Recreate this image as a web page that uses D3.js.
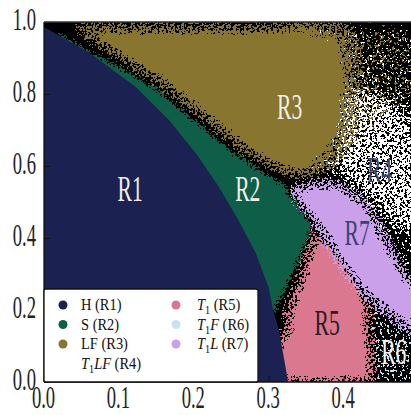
<!DOCTYPE html>
<html>
<head>
<meta charset="utf-8">
<script src="https://cdn.jsdelivr.net/npm/d3@7"></script>
<style>
  body { margin: 0; background: #fff; }
  svg { display: block; }
</style>
</head>
<body>
<div id="chart"></div>
<script>
// region boundaries, as [x, y] pairs
const r1Edge = [[0,0.986],[0.061,0.914],[0.123,0.819],[0.167,0.727],[0.203,0.635],[0.234,0.540],[0.260,0.448],[0.283,0.357],[0.300,0.262],[0.306,0.200],[0.314,0.142],[0.320,0.070],[0.326,0]];
const r2Outer = [[0.02,0.968],[0.05,0.930],[0.084,0.893],[0.147,0.819],[0.200,0.727],[0.254,0.635],[0.300,0.572],[0.322,0.545]];
const r2Right = [[0.327,0.520],[0.345,0.470],[0.358,0.435],[0.352,0.400],[0.332,0.300],[0.317,0.240],[0.306,0.190]];
const r3Lower = [[0.04,0.985],[0.063,0.955],[0.100,0.905],[0.163,0.822],[0.216,0.732],[0.270,0.642],[0.313,0.592],[0.338,0.575]];
const r3Right = [[0.355,0.585],[0.375,0.640],[0.385,0.720],[0.387,0.800],[0.375,0.900],[0.360,0.985]];
const r3Fade = [[0.33,0.985],[0.405,0.985],[0.415,0.85],[0.405,0.70],[0.385,0.62],[0.35,0.585],[0.33,0.70]];
const r3Fringe = [[0.30,0.99],[0.50,0.99],[0.50,0.80],[0.44,0.70],[0.40,0.60],[0.36,0.57]];
const r4Area = [[0.34,0.99],[0.50,0.99],[0.50,0.27],[0.486,0.29],[0.469,0.345],[0.450,0.421],[0.429,0.496],[0.402,0.540],[0.376,0.56],[0.355,0.58]];
const r4Core = [[0.39,0.78],[0.43,0.82],[0.47,0.78],[0.50,0.70],[0.50,0.40],[0.47,0.42],[0.43,0.52],[0.40,0.56],[0.385,0.62]];
const r7Top = [[0.327,0.524],[0.344,0.546],[0.376,0.552],[0.402,0.540],[0.429,0.496],[0.450,0.421],[0.469,0.345],[0.486,0.290],[0.50,0.26]];
const r7Bottom = [[0.50,0.13],[0.486,0.150],[0.450,0.206],[0.425,0.250],[0.406,0.300],[0.380,0.384],[0.357,0.457]];
const r5Edge = [[0.362,0.415],[0.385,0.390],[0.410,0.310],[0.428,0.250],[0.432,0.180],[0.435,0.120],[0.437,0.050],[0.439,0]];
const r5Left = [[0.30,0],[0.31,0.09],[0.326,0.15],[0.326,0.20],[0.345,0.300]];
const r6Area = [[0.43,0.24],[0.45,0.205],[0.486,0.15],[0.50,0.13],[0.50,0],[0.441,0],[0.438,0.08],[0.434,0.17]];

// label positions in data units
const regionNames = ["R1","R2","R3","R4","R5","R6","R7"];
const labelX = [0.115, 0.272, 0.328, 0.448, 0.378, 0.467, 0.418];
const labelY = [0.535, 0.535, 0.765, 0.59, 0.165, 0.082, 0.415];

const xTicks = [0.0, 0.1, 0.2, 0.3, 0.4];
const yTicks = [0.0, 0.2, 0.4, 0.6, 0.8, 1.0];

const legendLabels = ["H (R1)","S (R2)","LF (R3)","T_1LF (R4)","T_1 (R5)","T_1F (R6)","T_1L (R7)"];

const colors = {
  R1: "#1b2150", R2: "#0f5e47", R3: "#877530", R4: "#ffffff",
  R5: "#da7890", R6: "#c6e4ee", R7: "#c9a0e9"
};
const labelColors = {
  R1: "#f2efe4", R2: "#f2efe4", R3: "#f2efe4", R4: "#3a4272",
  R5: "#2a1c22", R6: "#f6f6f6", R7: "#3a4272"
};

const W = 411, H = 415;
const serif = "'Liberation Serif', 'DejaVu Serif', serif";

const svg = d3.select("#chart").append("svg")
  .attr("width", W).attr("height", H);

const x = d3.scaleLinear().domain([0, 0.5]).range([44, 418.5]);
const y = d3.scaleLinear().domain([0, 1]).range([382, 22]);

const defs = svg.append("defs");
defs.append("clipPath").attr("id", "plotClip")
  .append("rect").attr("x", 44).attr("y", 22).attr("width", 380).attr("height", 360);

function newFilter(id, seed, freq) {
  let f = defs.append("filter").attr("id", id)
    .attr("filterUnits", "userSpaceOnUse")
    .attr("x", 0).attr("y", 0).attr("width", W).attr("height", H)
    .attr("color-interpolation-filters", "sRGB");
  f.append("feTurbulence").attr("type", "fractalNoise")
    .attr("baseFrequency", freq).attr("numOctaves", 2).attr("seed", seed).attr("result", "noise");
  f.append("feColorMatrix").attr("in", "noise").attr("type", "matrix")
    .attr("values", "0 0 0 0 0  0 0 0 0 0  0 0 0 0 0  1 0 0 0 0").attr("result", "na");
  return f;
}
function finish(f, inName, radius) {
  f.append("feComponentTransfer").attr("in", inName).attr("result", "mask")
    .append("feFuncA").attr("type", "discrete").attr("tableValues", "0 1");
  f.append("feMorphology").attr("in", "SourceGraphic").attr("operator", "dilate")
    .attr("radius", radius).attr("result", "col");
  f.append("feComposite").attr("in", "col").attr("in2", "mask").attr("operator", "in");
}

// uniform speckle: shape + noise, thresholded
function speckle(id, blur, amp, bias, seed) {
  let f = newFilter(id, seed, 0.4);
  f.append("feGaussianBlur").attr("in", "SourceAlpha").attr("stdDeviation", blur).attr("result", "ba");
  f.append("feComposite").attr("in", "ba").attr("in2", "na").attr("operator", "arithmetic")
    .attr("k1", 0).attr("k2", 1).attr("k3", amp).attr("k4", -amp / 2 + bias).attr("result", "mix");
  finish(f, "mix", Math.ceil(blur * 2 + 1));
}

// noisy edge only: noise weighted by ba*(1-ba) so the inside stays solid
function edge(id, blur, A, seed) {
  let f = newFilter(id, seed, 0.45);
  f.append("feGaussianBlur").attr("in", "SourceAlpha").attr("stdDeviation", blur).attr("result", "ba");
  f.append("feComposite").attr("in", "ba").attr("in2", "ba").attr("operator", "arithmetic")
    .attr("k1", 1).attr("k2", 0).attr("k3", 0).attr("k4", 0).attr("result", "sq");
  f.append("feComposite").attr("in", "ba").attr("in2", "sq").attr("operator", "arithmetic")
    .attr("k1", 0).attr("k2", 1).attr("k3", -1).attr("k4", 0).attr("result", "g");
  f.append("feComposite").attr("in", "g").attr("in2", "na").attr("operator", "arithmetic")
    .attr("k1", 4 * A).attr("k2", -2 * A).attr("k3", 0).attr("k4", 0.5).attr("result", "ng");
  f.append("feComposite").attr("in", "ba").attr("in2", "ng").attr("operator", "arithmetic")
    .attr("k1", 0).attr("k2", 1).attr("k3", 1).attr("k4", -0.5).attr("result", "mix");
  finish(f, "mix", Math.ceil(blur * 2.5 + 1));
}

edge("eRegion", 5.5, 6, 2);
edge("eGreen", 2.5, 5, 5);
edge("eFade", 9, 7, 19);
speckle("sWhite", 4, 4, -1.1, 7);
speckle("sWhiteDense", 6, 4, -0.4, 11);
speckle("sOlive", 6, 4, -0.95, 13);
speckle("sBlue", 2, 4, -0.95, 17);

const line = d3.line().x(d => x(d[0])).y(d => y(d[1]));
const plot = svg.append("g").attr("clip-path", "url(#plotClip)");

plot.append("rect").attr("x", 44).attr("y", 22).attr("width", 380).attr("height", 360).attr("fill", "#000");

function region(pts, fill, filter) {
  let p = plot.append("path").attr("d", line(pts) + "Z").attr("fill", fill);
  if (filter) p.attr("filter", "url(#" + filter + ")");
  return p;
}

region(r4Area, colors.R4, "sWhite");
region(r4Core, colors.R4, "sWhiteDense");
region(r6Area, colors.R6, "sBlue");
region(r3Fringe, colors.R3, "sOlive");
region(r3Fade, colors.R3, "eFade");
region([...r3Lower, ...r3Right], colors.R3, "eRegion");
region([...r5Edge, ...r5Left], colors.R5, "eRegion");
region([...r7Top, ...r7Bottom], colors.R7, "eRegion");
region([...r2Outer, ...r2Right, [0.2, 0.19], [0, 0.9]], colors.R2, "eGreen");
region([[0, 0], ...r1Edge], colors.R1, null);

// region labels (the original figure is squeezed horizontally)
regionNames.forEach((n, i) => {
  plot.append("text")
    .attr("transform", "translate(" + x(labelX[i]) + "," + (y(labelY[i]) + 12) + ") scale(0.6,1)")
    .attr("text-anchor", "middle")
    .attr("font-family", serif).attr("font-size", 36)
    .attr("fill", labelColors[n])
    .text(n);
});

// axes
const xAxis = svg.append("g").attr("transform", "translate(0,382)")
  .call(d3.axisBottom(x).tickValues(xTicks).tickFormat(d3.format(".1f")).tickSizeInner(-6).tickSizeOuter(0));
const yAxis = svg.append("g").attr("transform", "translate(44,0)")
  .call(d3.axisLeft(y).tickValues(yTicks).tickFormat(d3.format(".1f")).tickSizeInner(-6).tickSizeOuter(0));

[xAxis, yAxis].forEach(g => {
  g.attr("font-family", serif).attr("font-size", 31).attr("color", "#111");
  g.select(".domain").remove();
  g.selectAll("line").attr("stroke-width", 1);
});
xAxis.selectAll("text").attr("y", 0).attr("dy", null)
  .attr("transform", "translate(-1,26) scale(0.6,1)").attr("fill", "#222");
yAxis.selectAll("text").attr("x", 0).attr("dy", null)
  .attr("transform", "translate(-8,7.5) scale(0.6,1)").attr("fill", "#222");

// spines
svg.append("line").attr("x1", 44).attr("x2", 44).attr("y1", 22).attr("y2", 382).attr("stroke", "#111").attr("stroke-width", 1.3);
svg.append("line").attr("x1", 44).attr("x2", W).attr("y1", 382).attr("y2", 382).attr("stroke", "#111").attr("stroke-width", 1.3);
svg.append("line").attr("x1", 44).attr("x2", W).attr("y1", 22).attr("y2", 22).attr("stroke", "#333").attr("stroke-width", 1.3);

// legend
const legend = svg.append("g");
legend.append("rect").attr("x", 44).attr("y", 289).attr("width", 214).attr("height", 93)
  .attr("rx", 2).attr("fill", "#fff").attr("stroke", "#111").attr("stroke-width", 1.3);

const legendCol = [0, 0, 0, 0, 1, 1, 1];
const legendRow = [0, 1, 2, 3, 0, 1, 2];
legendLabels.forEach((lab, i) => {
  let cx = legendCol[i] ? 176 : 63;
  let cy = 305 + legendRow[i] * 19.5;
  legend.append("circle").attr("cx", cx).attr("cy", cy).attr("r", 4.5)
    .attr("fill", colors[regionNames[i]]);
  let t = legend.append("text")
    .attr("transform", "translate(" + (legendCol[i] ? 197 : 81) + "," + (cy + 5) + ") scale(0.85,1)")
    .attr("font-family", serif).attr("font-size", 17).attr("fill", "#111");
  let sp = lab.indexOf(" ");
  let sym = lab.slice(0, sp), rest = lab.slice(sp);
  if (sym.indexOf("_1") >= 0) {
    let parts = sym.split("_1");
    t.append("tspan").attr("font-style", "italic").text(parts[0]);
    t.append("tspan").attr("font-size", 12).attr("dy", 4).text("1");
    if (parts[1]) t.append("tspan").attr("font-style", "italic").attr("dy", -4).text(parts[1]);
    t.append("tspan").attr("dy", parts[1] ? 0 : -4).text(rest);
  } else {
    t.text(lab);
  }
});
</script>
</body>
</html>
